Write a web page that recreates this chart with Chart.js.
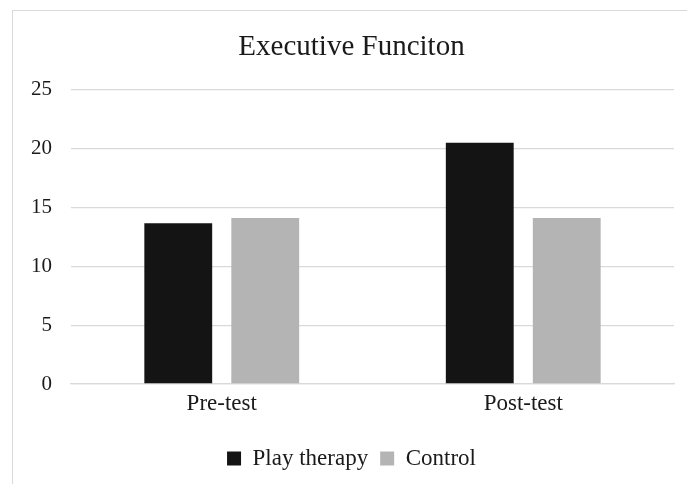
<!DOCTYPE html>
<html lang="en">
<head>
  <meta charset="UTF-8">
  <title>Executive Funciton</title>
  <script src="https://cdn.jsdelivr.net/npm/chart.js"></script>
  <style>
    body { margin: 0; background: #fff; overflow: hidden; }
    #frame { position: absolute; left: 12px; top: 10px; width: 720px; height: 520px; border: 1px solid #d9d9d9; }
    #wrap { position: absolute; left: 0; top: 0; width: 687px; height: 484px; }
  </style>
</head>
<body>
  <div id="frame"></div>
  <div id="wrap"><canvas id="efChart" width="687" height="484"></canvas></div>
  <script>
    const categories = ["Pre-test", "Post-test"];
    const playTherapy = [13.65, 20.5];
    const control = [14.1, 14.1];
    const yTicks = [0, 5, 10, 15, 20, 25];

    const serif = "'Liberation Serif', 'DejaVu Serif', serif";

    new Chart(document.getElementById("efChart"), {
      type: 'bar',
      data: {
        labels: categories,
        datasets: [
          { label: 'Play therapy', data: playTherapy, backgroundColor: '#141414' },
          { label: 'Control', data: control, backgroundColor: '#b4b4b4' }
        ]
      },
      options: {
        responsive: false,
        animation: false,
        categoryPercentage: 0.577,
        barPercentage: 0.78,
        layout: { padding: { left: 29, right: 13, bottom: 4 } },
        plugins: {
          title: {
            display: true,
            text: 'Executive Funciton',
            color: '#1a1a1a',
            font: { family: serif, size: 29, weight: 'normal' },
            padding: { top: 30, bottom: 25 }
          },
          legend: {
            position: 'bottom',
            labels: {
              color: '#1a1a1a',
              font: { family: serif, size: 23 },
              boxWidth: 14,
              boxHeight: 14,
              padding: 12
            }
          },
          tooltip: { enabled: false }
        },
        scales: {
          x: {
            grid: { display: false },
            border: { color: '#d9d9d9', width: 1.3 },
            afterFit: s => { s.height = 51; },
            ticks: { color: '#1a1a1a', font: { family: serif, size: 23, lineHeight: 1 }, padding: 0 }
          },
          y: {
            min: 0,
            max: 25,
            afterBuildTicks: s => { s.ticks = yTicks.map(v => ({ value: v })); },
            afterFit: s => { s.width = 42; },
            grid: { color: '#d9d9d9', lineWidth: 1.3, drawTicks: false },
            border: { display: false },
            ticks: { color: '#1a1a1a', font: { family: serif, size: 21 }, padding: 19 }
          }
        }
      }
    });
  </script>
</body>
</html>
